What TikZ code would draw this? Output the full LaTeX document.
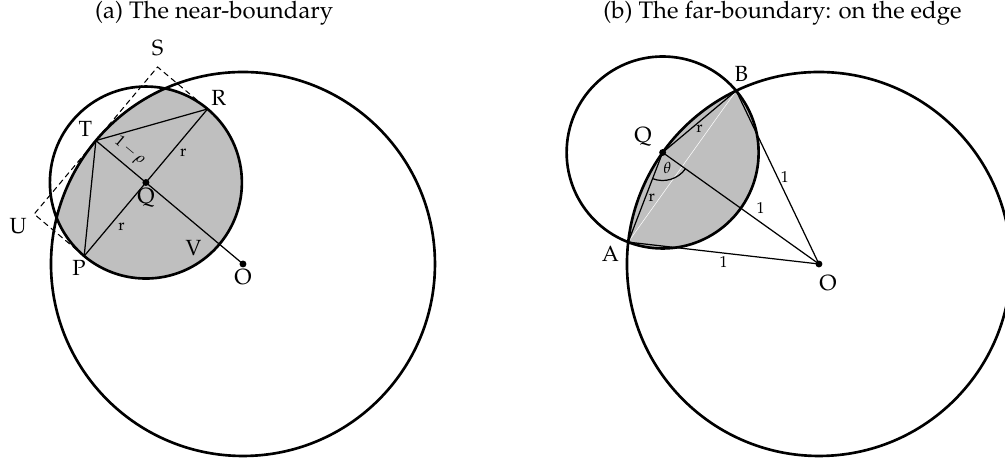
\documentclass[tikz,border=0pt]{standalone}
\usepackage[T1]{fontenc}
\usepackage{mathpazo}
\usetikzlibrary{calc,positioning}
\tikzset{
  rim/.style={line width=1.5pt},
  seg/.style={line width=.7pt},
  guide/.style={line width=.6pt,dash pattern=on 3pt off 2.4pt},
  ttl/.style={font=\fontsize{13.6}{16}\selectfont,inner sep=2pt},
  ptlabel/.style={font=\fontsize{12.5}{14}\selectfont,inner sep=2pt},
  lenlabel/.style={font=\fontsize{9}{10}\selectfont,inner sep=1.5pt},
}
\begin{document}
\begin{tikzpicture}[line cap=round,scale=3.84]
\useasboundingbox (-1.2656,-1.026) rectangle (3.969,1.375);
\def\rh{.66}
\def\rad{.5}
\def\ph{144.5}
\def\al{28.96}

\node[ttl] (ttla) at (-.15,1.307) {(a) The near-boundary};
\node[ttl] (ttlb) at (2.81,1.307) {(b) The far-boundary: on the edge};

% near-boundary
\coordinate (Oa) at (0,0);
\coordinate (Qa) at (140:\rh);
\coordinate (T) at (140:1);
\coordinate (V) at (140:.16);
\coordinate (R) at ($(Qa)+(50:\rad)$);
\coordinate (P) at ($(Qa)+(230:\rad)$);
\coordinate (S) at ($(T)+(50:\rad)$);
\coordinate (U) at ($(T)+(230:\rad)$);

\draw[guide] (P) -- (U) -- (S) -- (R);
\begin{scope}
\clip (Oa) circle[radius=1];
\fill[black!25] (Qa) circle[radius=\rad];
\end{scope}
\draw[rim] (Oa) circle[radius=1] (Qa) circle[radius=\rad];
\draw[seg] (R) -- (T) -- (P);
\draw[seg] (Qa) -- node[lenlabel,below right] (rqr) {r} (R);
\draw[seg] (Qa) -- node[lenlabel,below right] (rqp) {r} (P);
\draw[seg] (T) -- node[lenlabel,sloped,above=1.5pt] (rtq) {$1-\rho$} (Qa) -- (Oa);
\foreach \p in {Qa,Oa} \fill (\p) circle[radius=.018];

\node[ptlabel,above=4pt] (lS) at (S) {S};
\node[ptlabel,above right] (lR) at (R) {R};
\node[ptlabel,above left] (lT) at (T) {T};
\node[ptlabel,below left=0pt and 2pt] (lU) at (U) {U};
\node[ptlabel,below,xshift=-3pt] (lP) at (P) {P};
\node[ptlabel,below=1pt] (lQa) at (Qa) {Q};
\node[ptlabel,left=8pt,yshift=-2pt] (lV) at (V) {V};
\node[ptlabel,below=1pt] (lOa) at (Oa) {O};

% far-boundary
\begin{scope}[xshift=3cm]
\coordinate (Ob) at (0,0);
\coordinate (Qb) at (\ph:1);
\coordinate (A) at ({\ph+\al}:1);
\coordinate (B) at ({\ph-\al}:1);

\begin{scope}
\clip (Ob) circle[radius=1];
\fill[black!25] (Qb) circle[radius=\rad];
\end{scope}
\draw[white,line width=.3pt] (A) -- (B);
\draw[rim] (Ob) circle[radius=1] (Qb) circle[radius=\rad];
\draw[seg] (Qb) -- node[lenlabel,pos=.58,above right] (lqo) {1} (Ob);
\draw[seg] (B) -- node[lenlabel,right] (lbo) {1} (Ob);
\draw[seg] (A) -- node[lenlabel,below] (lao) {1} (Ob);
\draw[seg] (Qb) -- node[lenlabel,right] (lqa) {r} (A);
\draw[seg] (Qb) -- node[lenlabel,below] (lqb) {r} (B);
\draw[seg] ($(Qb)+({\ph-270+\al/2}:.146)$) arc[start angle={\ph-270+\al/2},end angle={\ph-180},radius=.146];
\node[lenlabel] (lth) at ($(Qb)+(-73:.085)$) {$\theta$};
\fill (Qb) circle[radius=.018] (Ob) circle[radius=.018];

\node[ptlabel,above=3pt,xshift=3pt] (lB) at (B) {B};
\node[ptlabel,above left=1pt and 4pt] (lQb) at (Qb) {Q};
\node[ptlabel,below left=0pt and 3pt] (lA) at (A) {A};
\node[ptlabel,below right=4pt and -2pt] (lOb) at (Ob) {O};
\end{scope}
\end{tikzpicture}
\end{document}
